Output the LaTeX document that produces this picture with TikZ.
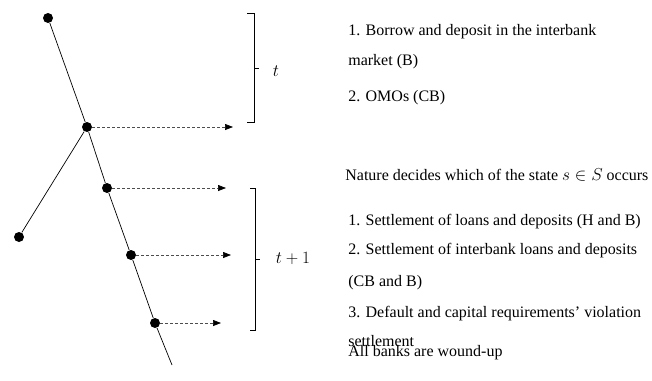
\documentclass[tikz,border=0pt]{standalone}
\usepackage{fontspec}
\setmainfont{Liberation Serif}
\usetikzlibrary{arrows.meta}

\tikzset{
  dot/.style={circle, fill=black, inner sep=0pt, minimum size=10pt},
  dasharrow/.style={densely dashed, gray!60!black, -{Triangle[length=8pt,width=6pt,black]}},
  txt/.style={anchor=west, inner sep=0pt, font=\fontsize{16}{20}\selectfont},
  periodlabel/.style={inner sep=0pt, font=\fontsize{18}{20}\selectfont}
}

\begin{document}
\begin{tikzpicture}[x=1pt, y=-1pt, line width=0.7pt]
    \useasboundingbox (0,0) rectangle (652,380);

    % draw tree nodes
    \node[dot] (root) at (48,18) {};
    \node[dot] (split) at (87,127) {};
    \node[dot] (other) at (19,237) {};
    \node[dot] (stepa) at (107,188) {};
    \node[dot] (stepb) at (131,255) {};
    \node[dot] (stepc) at (155,323) {};
    \coordinate (tail) at (172,365);

    % draw branches
    \draw (root) -- (split) -- (stepa) -- (stepb) -- (stepc) -- (tail);
    \draw (split) -- (other);

    % draw dashed arrows
    \coordinate (ea) at (233,127);
    \coordinate (eb) at (226,188);
    \coordinate (ec) at (231,255);
    \coordinate (ed) at (221,323);
    \draw[dasharrow] (split) -- (ea);
    \draw[dasharrow] (stepa) -- (eb);
    \draw[dasharrow] (stepb) -- (ec);
    \draw[dasharrow] (stepc) -- (ed);

    % draw brackets
    \draw (247,13) -- (254,13) -- (254,122) -- (247,122);
    \draw (254,68) -- (259,68);
    \draw (250,188) -- (255,188) -- (255,330) -- (250,330);
    \draw (255,259) -- (260,259);
    \node[periodlabel] (pt) at (276,71) {$t$};
    \node[periodlabel] (ptt) at (293,258) {$t+1$};

    % draw texts
    \node[txt] (a1) at (348,32) {1. Borrow and deposit in the interbank};
    \node[txt] (a2) at (348,62) {market (B)};
    \node[txt] (a3) at (348,98) {2. OMOs (CB)};
    \node[txt] (nat) at (345,175) {Nature decides which of the state $s \in S$ occurs};
    \node[txt] (b1) at (348,222) {1. Settlement of loans and deposits (H and B)};
    \node[txt] (b2) at (348,251) {2. Settlement of interbank loans and deposits};
    \node[txt] (b3) at (348,283) {(CB and B)};
    \node[txt] (b4) at (348,314) {3. Default and capital requirements' violation};
    \node[txt] (b5) at (348,341) {settlement};
    \node[txt] (b6) at (348,353) {All banks are wound-up};
\end{tikzpicture}
\end{document}
